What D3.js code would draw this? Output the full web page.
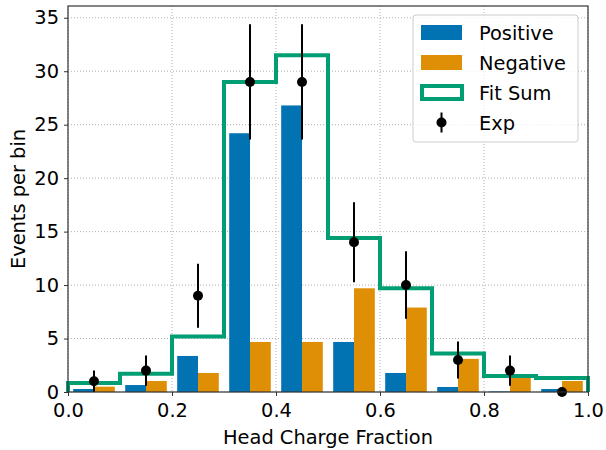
<!DOCTYPE html>
<html><head><meta charset="utf-8">
<script src="https://cdn.jsdelivr.net/npm/d3@7"></script>
<style>body{margin:0;background:#fff;} text{font-family:"DejaVu Sans",sans-serif;}</style>
</head><body><svg id="c" width="606" height="450"></svg>
<script>
const binEdges = [0,0.1,0.2,0.3,0.4,0.5,0.6,0.7,0.8,0.9,1.0];
const binCenters = [0.05,0.15,0.25,0.35,0.45,0.55,0.65,0.75,0.85,0.95];
const positive = [0.28,0.65,3.37,24.2,26.8,4.68,1.78,0.47,0.05,0.28];
const negative = [0.5,1.03,1.78,4.68,4.68,9.7,7.9,3.1,1.4,1.03];
const fitSum = [0.85,1.7,5.2,29.0,31.5,14.4,9.7,3.6,1.5,1.3];
const expVals = [1,2,9,29,29,14,10,3,2,0];
const expErr = [1,1.41,3,5.39,5.39,3.74,3.16,1.73,1.41,0];
const xTicks = [0,0.2,0.4,0.6,0.8,1.0];
const yTicks = [0,5,10,15,20,25,30,35];
const colors = {pos:"#0173B2", neg:"#DE8F05", fit:"#029E73", exp:"#000"};
const FS = 19.4;

const svg = d3.select("#c");
const L=68,R=588,T=6,B=392;
const x = d3.scaleLinear().domain([0,1]).range([L,R]);
const y = d3.scaleLinear().domain([0,36.1]).range([B,T]);

// grid
const g = svg.append("g");
g.selectAll(".gx").data(xTicks).join("line").attr("x1",d=>x(d)).attr("x2",d=>x(d)).attr("y1",T).attr("y2",B)
 .attr("stroke","#b0b0b0").attr("stroke-width",1).attr("stroke-dasharray","1,2");
g.selectAll(".gy").data(yTicks).join("line").attr("y1",d=>y(d)).attr("y2",d=>y(d)).attr("x1",L).attr("x2",R)
 .attr("stroke","#b0b0b0").attr("stroke-width",1).attr("stroke-dasharray","1,2");

const bw = 0.04;
svg.append("g").selectAll("rect").data(positive).join("rect")
 .attr("x",(d,i)=>x(binCenters[i]-bw)).attr("width",x(bw)-x(0))
 .attr("y",d=>y(d)).attr("height",d=>B-y(d)).attr("fill",colors.pos);
svg.append("g").selectAll("rect").data(negative).join("rect")
 .attr("x",(d,i)=>x(binCenters[i])).attr("width",x(bw)-x(0))
 .attr("y",d=>y(d)).attr("height",d=>B-y(d)).attr("fill",colors.neg);

// fit step
const pts=[[0,0]];
fitSum.forEach((v,i)=>{pts.push([binEdges[i],v]);pts.push([binEdges[i+1],v]);});
pts.push([1,0]);
svg.append("path").attr("d",d3.line().x(d=>x(d[0])).y(d=>y(d[1]))(pts))
 .attr("fill","none").attr("stroke",colors.fit).attr("stroke-width",4).attr("stroke-linejoin","miter");

// exp
const eg = svg.append("g");
eg.selectAll("line").data(expVals).join("line")
 .attr("x1",(d,i)=>x(binCenters[i])).attr("x2",(d,i)=>x(binCenters[i]))
 .attr("y1",(d,i)=>y(d-expErr[i])).attr("y2",(d,i)=>y(d+expErr[i]))
 .attr("stroke","#000").attr("stroke-width",2);
eg.selectAll("circle").data(expVals).join("circle")
 .attr("cx",(d,i)=>x(binCenters[i])).attr("cy",d=>y(d)).attr("r",5).attr("fill","#000");

// spines
svg.append("rect").attr("x",L).attr("y",T).attr("width",R-L).attr("height",B-T)
 .attr("fill","none").attr("stroke","#333").attr("stroke-width",1.2);

// axes
const xa = svg.append("g").attr("transform",`translate(0,${B})`)
 .call(d3.axisBottom(x).tickValues(xTicks).tickFormat(d3.format(".1f")).tickSize(4).tickPadding(7));
const ya = svg.append("g").attr("transform",`translate(${L},0)`)
 .call(d3.axisLeft(y).tickValues(yTicks).tickSize(4).tickPadding(5));
[xa,ya].forEach(a=>{a.select(".domain").remove();a.selectAll("text").attr("font-size",FS).attr("fill","#000")
 .attr("font-family","DejaVu Sans");a.selectAll("line").attr("stroke","#333");});

svg.append("text").attr("x",(L+R)/2).attr("y",444).attr("text-anchor","middle").attr("font-size",FS).text("Head Charge Fraction");
svg.append("text").attr("transform",`translate(25,${(T+B)/2}) rotate(-90)`).attr("text-anchor","middle").attr("font-size",FS).text("Events per bin");

// legend
const lg = svg.append("g");
lg.append("rect").attr("x",413).attr("y",15).attr("width",165).attr("height",127).attr("rx",3)
 .attr("fill","rgba(255,255,255,0.8)").attr("stroke","#ccc");
const items=[{n:"Positive",t:"pos"},{n:"Negative",t:"neg"},{n:"Fit Sum",t:"fit"},{n:"Exp",t:"exp"}];
items.forEach((it,i)=>{
  const cy = 32.5+i*30;
  if(it.t==="pos"||it.t==="neg") lg.append("rect").attr("x",421).attr("y",cy-7.5).attr("width",41).attr("height",15).attr("fill",colors[it.t]);
  else if(it.t==="fit") lg.append("rect").attr("x",422).attr("y",cy-6.5).attr("width",40).attr("height",13).attr("fill","none").attr("stroke",colors.fit).attr("stroke-width",4);
  else { lg.append("line").attr("x1",441.5).attr("x2",441.5).attr("y1",cy-10).attr("y2",cy+10).attr("stroke","#000").attr("stroke-width",2);
         lg.append("circle").attr("cx",441.5).attr("cy",cy).attr("r",5).attr("fill","#000"); }
  lg.append("text").attr("x",479).attr("y",cy+7).attr("font-size",FS).text(it.n);
});
</script></body></html>
